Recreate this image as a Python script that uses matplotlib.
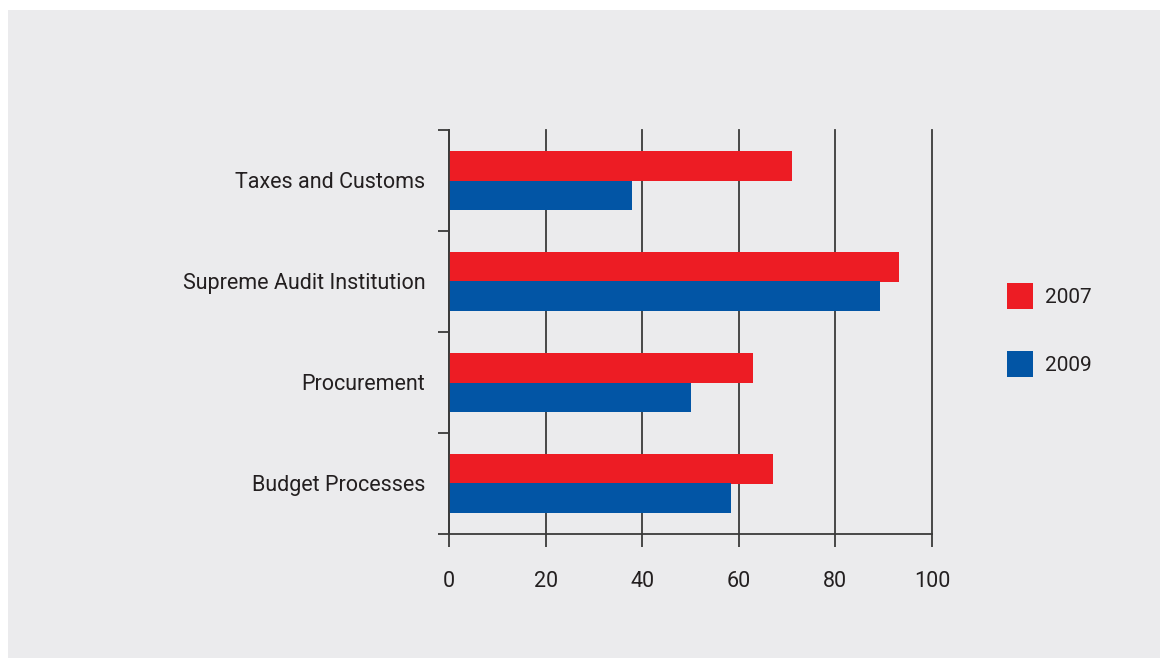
import numpy as np
import matplotlib.pyplot as plt
from matplotlib.patches import Rectangle, Patch
from matplotlib.ticker import FixedLocator

plt.rcParams['font.family'] = ['Roboto', 'DejaVu Sans']

categories = ["Budget Processes", "Procurement", "Supreme Audit Institution", "Taxes and Customs"]
vals_2007 = [67.1, 63.0, 93.2, 71.1]
vals_2009 = [58.3, 50.0, 89.3, 37.8]
series_names = ["2007", "2009"]
x_ticks = [0, 20, 40, 60, 80, 100]

red = "#ed1c24"
blue = "#0255a5"
bg = "#ebebed"
line_col = "#3a3a3a"
text_col = "#231f20"

fig = plt.figure(figsize=(11.63, 6.6), dpi=100)
fig.patches.append(Rectangle((8 / 1163, 2 / 660), 1152 / 1163, 648 / 660,
                             transform=fig.transFigure, facecolor=bg, edgecolor="none", zorder=-10))

ax = fig.add_axes([449 / 1163, 1 - 534 / 660, 483 / 1163, 404 / 660])
ax.set_facecolor(bg)
ax.set_zorder(2)

y = np.arange(len(categories))
h = 0.29
ax.barh(y + h / 2, vals_2007, height=h, color=red, zorder=3, label=series_names[0])
ax.barh(y - h / 2, vals_2009, height=h, color=blue, zorder=3, label=series_names[1])

ax.set_xlim(0, 100)
ax.set_ylim(-0.5, len(categories) - 0.5)

ax.set_xticks(x_ticks)
ax.set_xticklabels([str(t) for t in x_ticks])
ax.set_yticks(y)
ax.set_yticklabels(categories)
ax.yaxis.set_minor_locator(FixedLocator(np.arange(-0.5, len(categories), 1.0)))

ax.grid(axis="x", color=line_col, linewidth=1.3, zorder=1)
for gl in ax.get_xgridlines():
    gl.set_clip_on(False)
for s in ["top", "right"]:
    ax.spines[s].set_visible(False)
for s in ["left", "bottom"]:
    ax.spines[s].set_color(line_col)
    ax.spines[s].set_linewidth(1.3)
    ax.spines[s].set_zorder(4)

ax.tick_params(axis="y", which="major", length=0, pad=17, labelsize=15.5, labelcolor=text_col)
ax.tick_params(axis="y", which="minor", length=8, width=1.3, color=line_col)
ax.tick_params(axis="x", which="major", length=9.5, width=1.3, color=line_col, pad=17,
               labelsize=15.5, labelcolor=text_col)

handles = [Patch(facecolor=red, edgecolor="none"), Patch(facecolor=blue, edgecolor="none")]
fig.legend(handles, series_names, loc="center left", bbox_to_anchor=(1001 / 1163, 1 - 330 / 660),
           frameon=False, fontsize=15, handlelength=1.25, handleheight=1.5,
           labelspacing=2.05, handletextpad=0.55, labelcolor=text_col,
           borderpad=0.3, borderaxespad=0)

fig.savefig("out.png", dpi=100, facecolor="white")
